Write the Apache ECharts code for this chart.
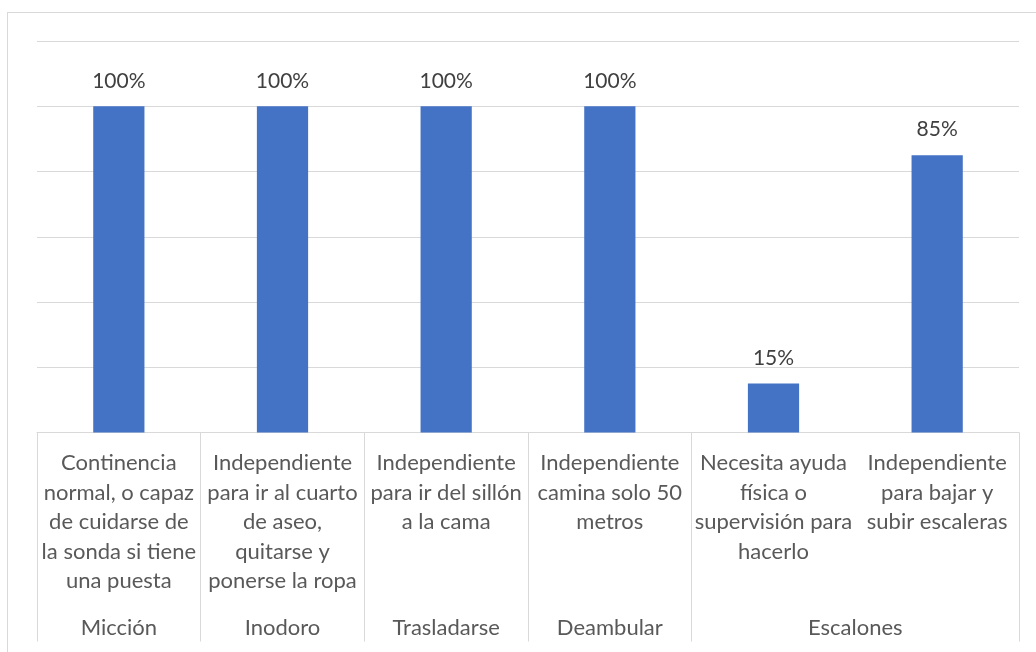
<!DOCTYPE html>
<html>
<head>
<meta charset="utf-8">
<title>Actividades</title>
<script src="https://cdn.jsdelivr.net/npm/echarts@6/dist/echarts.min.js"></script>
<style>
  html, body { margin: 0; padding: 0; background: #ffffff; overflow: hidden; }
  #frame { position: absolute; left: 7px; top: 12px; width: 1100px; height: 700px; border: 1px solid #d9d9d9; box-sizing: border-box; }
  #chart { position: absolute; left: 0; top: 0; width: 1036px; height: 652px; }
</style>
</head>
<body>
<div id="frame"></div>
<div id="chart"></div>
<script>
// Item descriptions (first label row), one per bar
const categories = [
  'Continencia\nnormal, o capaz\nde cuidarse de\nla sonda si tiene\nuna puesta',
  'Independiente\npara ir al cuarto\nde aseo,\nquitarse y\nponerse la ropa',
  'Independiente\npara ir del sillón\na la cama',
  'Independiente\ncamina solo 50\nmetros',
  'Necesita ayuda\nfísica o\nsupervisión para\nhacerlo',
  'Independiente\npara bajar y\nsubir escaleras'
];
// Percentage of patients per item
const values = [100, 100, 100, 100, 15, 85];
// Activity groups (second label row) and how many items each spans
const groups = ['Micción', 'Inodoro', 'Trasladarse', 'Deambular', 'Escalones'];
const groupSpans = [1, 1, 1, 1, 2];
// Value axis range
const yMin = 0, yMax = 120, yStep = 20;

// Group boundaries (item index where each group starts)
const groupStarts = [];
let acc = 0;
groupSpans.forEach(s => { groupStarts.push(acc); acc += s; });

// Half-band positions for centring group names under their items
const halfSlots = new Array(categories.length * 2 + 1).fill('');
groups.forEach((g, i) => { halfSlots[groupStarts[i] * 2 + groupSpans[i]] = g; });

const FONT = 'Lato, "Open Sans", sans-serif';
const GRID_COLOR = '#d9d9d9';

const chart = echarts.init(document.getElementById('chart'), null, { renderer: 'canvas' });
chart.setOption({
  animation: false,
  grid: { left: 37, right: 17, top: 41, bottom: 219.5, containLabel: false },
  xAxis: [
    {
      type: 'category',
      data: categories,
      position: 'bottom',
      axisLine: { show: true, lineStyle: { color: GRID_COLOR, width: 1 } },
      axisTick: {
        show: true,
        length: 209,
        lineStyle: { color: GRID_COLOR, width: 1 },
        interval: (index) => groupStarts.indexOf(index) !== -1
      },
      axisLabel: {
        interval: 0,
        margin: 16,
        color: '#595959',
        fontFamily: FONT,
        fontSize: 22,
        lineHeight: 29.5,
        align: 'center'
      },
      splitLine: { show: false }
    },
    {
      type: 'category',
      data: halfSlots,
      position: 'bottom',
      boundaryGap: false,
      axisLine: { show: false },
      axisTick: { show: false },
      axisLabel: {
        interval: 0,
        margin: 181,
        color: '#595959',
        fontFamily: FONT,
        fontSize: 22,
        lineHeight: 29
      },
      splitLine: { show: false }
    }
  ],
  yAxis: {
    type: 'value',
    min: yMin,
    max: yMax,
    interval: yStep,
    axisLine: { show: false },
    axisTick: { show: false },
    axisLabel: { show: false },
    splitLine: { show: true, lineStyle: { color: GRID_COLOR, width: 1 } }
  },
  series: [
    {
      type: 'bar',
      xAxisIndex: 0,
      data: values,
      barWidth: '31.3%',
      itemStyle: { color: '#4472c4' },
      label: {
        show: true,
        position: 'top',
        distance: 15,
        formatter: '{c}%',
        color: '#404040',
        fontFamily: FONT,
        fontSize: 21
      }
    }
  ]
});
</script>
</body>
</html>
